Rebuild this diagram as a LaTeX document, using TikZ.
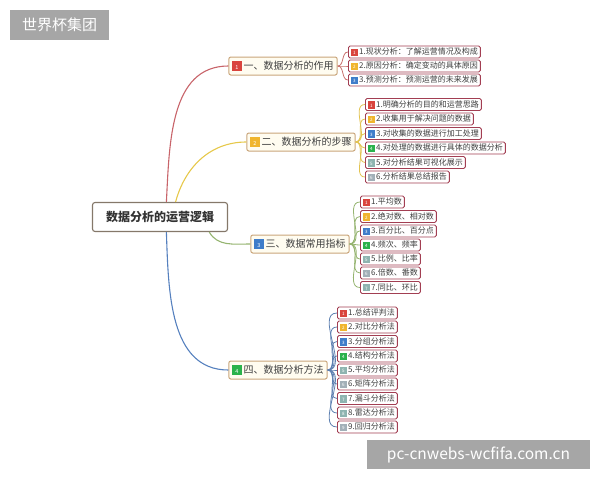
\documentclass[tikz,border=0pt]{standalone}
\usepackage{fontspec}
\setmainfont{Noto Sans CJK SC}
\usetikzlibrary{arrows.meta}

% colours of the map
\definecolor{rootline}{HTML}{85786A}
\definecolor{branchline}{HTML}{C9A57A}
\definecolor{branchfill}{HTML}{FFFCF0}
\definecolor{leafline}{HTML}{A23E52}
\definecolor{tagred}{HTML}{D9443D}
\definecolor{tagyellow}{HTML}{F0B52E}
\definecolor{tagblue}{HTML}{3F7DCA}
\definecolor{taggreen}{HTML}{2BB24C}
\definecolor{tagteal}{HTML}{8EB4B0}
\definecolor{taggray}{HTML}{A2B0B8}
\definecolor{linkred}{HTML}{C8646A}
\definecolor{linkyellow}{HTML}{E6C84A}
\definecolor{linkgreen}{HTML}{95B470}
\definecolor{linkblue}{HTML}{5580BE}
\definecolor{markgray}{HTML}{A6A6A6}

% small coloured number tags
\newcommand{\leaftag}[2]{{\fboxsep=0.7pt\colorbox{#1}{\makebox[5.6pt][c]{\rule[-0.6pt]{0pt}{6pt}\color{white}\fontsize{4.5}{5}\selectfont #2}}}\kern1.2pt}
\newcommand{\branchtag}[2]{{\fboxsep=0.9pt\colorbox{#1}{\makebox[7.5pt][c]{\rule[-0.8pt]{0pt}{8pt}\color{white}\fontsize{5.5}{6}\selectfont #2}}}\kern2pt}

\begin{document}
\begin{tikzpicture}[
    x=1pt, y=1pt,
    % Style for the centre box
    rootbox/.style={
        draw=rootline, line width=1.1pt, fill=white, rounded corners=2.5pt,
        minimum width=135pt, minimum height=29pt,
        font=\fontsize{12}{14}\selectfont\bfseries, text=black!80
    },
    % Style for the four main topics
    branchbox/.style={
        draw=branchline, line width=1pt, fill=branchfill, rounded corners=2pt,
        minimum height=18pt, inner xsep=3.5pt, inner ysep=1pt,
        font=\fontsize{10}{12}\selectfont, text=black!75
    },
    % Style for the sub topics
    leafbox/.style={
        draw=leafline, line width=0.9pt, fill=white, rounded corners=1.5pt,
        minimum height=12pt, inner xsep=2.5pt, inner ysep=0.5pt, anchor=west,
        font=\fontsize{8}{9}\selectfont, text=black!75
    },
    % Style for the curved links
    trunk/.style={line width=1.1pt},
    twig/.style={line width=0.8pt},
    % Style for the grey stamps
    stamp/.style={fill=markgray, text=white, inner sep=0pt}
]

\useasboundingbox (0,0) rectangle (600,-480);

% --- Centre ---
\node[rootbox] (root) at (160,-217) {数据分析的运营逻辑};

% --- Main topics ---
\node[branchbox] (b1) at (283,-66) {\branchtag{tagred}{1}一、数据分析的作用};
\node[branchbox] (b2) at (301,-142) {\branchtag{tagyellow}{2}二、数据分析的步骤};
\node[branchbox] (b3) at (300,-244) {\branchtag{tagblue}{3}三、数据常用指标};
\node[branchbox] (b4) at (278,-370) {\branchtag{taggreen}{4}四、数据分析方法};

\draw[trunk, linkred] (root.67) to[out=87, in=180] (b1.west);
\draw[trunk, linkyellow] (root.44) to[out=75, in=180] (b2.west);
\draw[trunk, linkgreen] (root.-17) to[out=-60, in=180] (b3.west);
\draw[trunk, linkblue] (root.-67) to[out=-88, in=180] (b4.west);

% --- 1. Role of analysis ---
\node[leafbox] (l11) at (348,-52) {\leaftag{tagred}{1}1.现状分析：了解运营情况及构成};
\node[leafbox] (l12) at (348,-66) {\leaftag{tagyellow}{2}2.原因分析：确定变动的具体原因};
\node[leafbox] (l13) at (348,-80) {\leaftag{tagblue}{3}3.预测分析：预测运营的未来发展};

\draw[twig, linkred!80!branchline] (b1.east) to[out=0, in=180] (l11.west);
\draw[twig, linkred!80!branchline] (b1.east) to[out=0, in=180] (l12.west);
\draw[twig, linkred!80!branchline] (b1.east) to[out=0, in=180] (l13.west);

% --- 2. Steps of analysis ---
\node[leafbox] (l21) at (365,-104.5) {\leaftag{tagred}{1}1.明确分析的目的和运营思路};
\node[leafbox] (l22) at (365,-119) {\leaftag{tagyellow}{2}2.收集用于解决问题的数据};
\node[leafbox] (l23) at (365,-133.5) {\leaftag{tagblue}{3}3.对收集的数据进行加工处理};
\node[leafbox] (l24) at (365,-148) {\leaftag{taggreen}{4}4.对处理的数据进行具体的数据分析};
\node[leafbox] (l25) at (365,-162.5) {\leaftag{tagteal}{5}5.对分析结果可视化展示};
\node[leafbox] (l26) at (365,-177) {\leaftag{taggray}{6}6.分析结果总结报告};

\draw[twig, linkyellow!85!branchline] (b2.east) to[out=0, in=180] (l21.west);
\draw[twig, linkyellow!85!branchline] (b2.east) to[out=0, in=180] (l22.west);
\draw[twig, linkyellow!85!branchline] (b2.east) to[out=0, in=180] (l23.west);
\draw[twig, linkyellow!85!branchline] (b2.east) to[out=0, in=180] (l24.west);
\draw[twig, linkyellow!85!branchline] (b2.east) to[out=0, in=180] (l25.west);
\draw[twig, linkyellow!85!branchline] (b2.east) to[out=0, in=180] (l26.west);

% --- 3. Common indicators ---
\node[leafbox] (l31) at (360,-202) {\leaftag{tagred}{1}1.平均数};
\node[leafbox] (l32) at (360,-216.5) {\leaftag{tagyellow}{2}2.绝对数、相对数};
\node[leafbox] (l33) at (360,-231) {\leaftag{tagblue}{3}3.百分比、百分点};
\node[leafbox] (l34) at (360,-245) {\leaftag{taggreen}{4}4.频次、频率};
\node[leafbox] (l35) at (360,-259) {\leaftag{tagteal}{5}5.比例、比率};
\node[leafbox] (l36) at (360,-273) {\leaftag{taggray}{6}6.倍数、番数};
\node[leafbox] (l37) at (360,-287.5) {\leaftag{tagteal}{7}7.同比、环比};

\draw[twig, linkgreen] (b3.east) to[out=0, in=180] (l31.west);
\draw[twig, linkgreen] (b3.east) to[out=0, in=180] (l32.west);
\draw[twig, linkgreen] (b3.east) to[out=0, in=180] (l33.west);
\draw[twig, linkgreen] (b3.east) to[out=0, in=180] (l34.west);
\draw[twig, linkgreen] (b3.east) to[out=0, in=180] (l35.west);
\draw[twig, linkgreen] (b3.east) to[out=0, in=180] (l36.west);
\draw[twig, linkgreen] (b3.east) to[out=0, in=180] (l37.west);

% --- 4. Methods of analysis ---
\node[leafbox] (l41) at (337,-313) {\leaftag{tagred}{1}1.总结评判法};
\node[leafbox] (l42) at (337,-327) {\leaftag{tagyellow}{2}2.对比分析法};
\node[leafbox] (l43) at (337,-341.5) {\leaftag{tagblue}{3}3.分组分析法};
\node[leafbox] (l44) at (337,-356) {\leaftag{taggreen}{4}4.结构分析法};
\node[leafbox] (l45) at (337,-370) {\leaftag{tagteal}{5}5.平均分析法};
\node[leafbox] (l46) at (337,-384) {\leaftag{taggray}{6}6.矩阵分析法};
\node[leafbox] (l47) at (337,-398.5) {\leaftag{tagteal}{7}7.漏斗分析法};
\node[leafbox] (l48) at (337,-413) {\leaftag{tagteal}{8}8.雷达分析法};
\node[leafbox] (l49) at (337,-427) {\leaftag{taggray}{9}9.回归分析法};

\draw[twig, linkblue!80!gray] (b4.east) to[out=0, in=180] (l41.west);
\draw[twig, linkblue!80!gray] (b4.east) to[out=0, in=180] (l42.west);
\draw[twig, linkblue!80!gray] (b4.east) to[out=0, in=180] (l43.west);
\draw[twig, linkblue!80!gray] (b4.east) to[out=0, in=180] (l44.west);
\draw[twig, linkblue!80!gray] (b4.east) to[out=0, in=180] (l45.west);
\draw[twig, linkblue!80!gray] (b4.east) to[out=0, in=180] (l46.west);
\draw[twig, linkblue!80!gray] (b4.east) to[out=0, in=180] (l47.west);
\draw[twig, linkblue!80!gray] (b4.east) to[out=0, in=180] (l48.west);
\draw[twig, linkblue!80!gray] (b4.east) to[out=0, in=180] (l49.west);

% --- Stamps ---
\node[stamp, minimum width=99pt, minimum height=30pt, font=\fontsize{15}{17}\selectfont] (mark1) at (59.5,-25) {世界杯集团};
\node[stamp, minimum width=223pt, minimum height=29pt, font=\fontsize{15.5}{17}\selectfont] (mark2) at (478.5,-454.5) {pc-cnwebs-wcfifa.com.cn};

\end{tikzpicture}
\end{document}
